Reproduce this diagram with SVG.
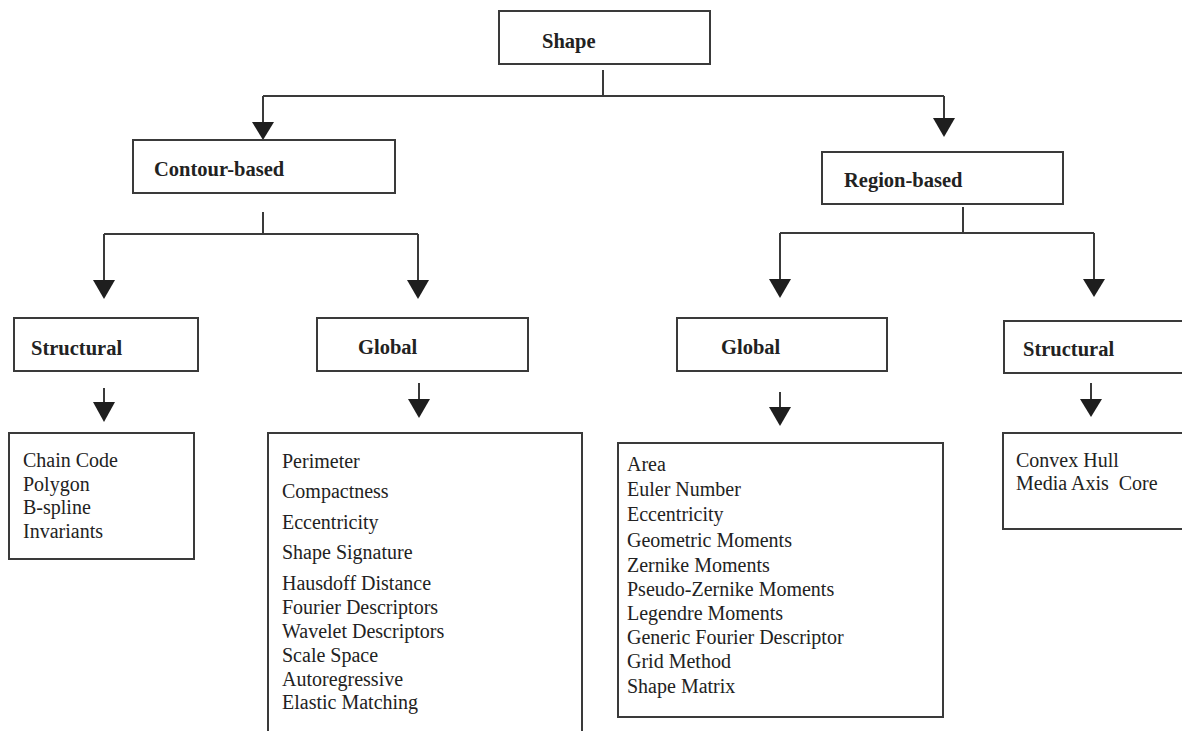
<svg xmlns="http://www.w3.org/2000/svg" width="1182" height="731" viewBox="0 0 1182 731">
  <style>
    .box { fill: #ffffff; stroke: #3a3a3a; stroke-width: 2; }
    .title { font-family: "Liberation Serif", "Times New Roman", serif; font-weight: bold; font-size: 20.5px; fill: #222222; }
    .item { font-family: "Liberation Serif", "Times New Roman", serif; font-size: 20px; fill: #222222; }
    .wire { fill: none; stroke: #3a3a3a; stroke-width: 2; }
    .head { fill: #1e1e1e; stroke: none; }
  </style>
  <rect width="1182" height="731" fill="#ffffff"/>

  <!-- connectors -->
  <g id="connectors">
    <!-- Shape to Contour-based / Region-based -->
    <path class="wire" d="M603 70 V96 M263 96 H944 M263 96 V122 M944 96 V118"/>
    <polygon class="head" points="252,122 274,122 263,140"/>
    <polygon class="head" points="933,118 955,118 944,137"/>
    <!-- Contour-based to its two children -->
    <path class="wire" d="M263 212 V234 M104 234 H418 M104 234 V280 M418 234 V280"/>
    <polygon class="head" points="93,280 115,280 104,299"/>
    <polygon class="head" points="407,280 429,280 418,299"/>
    <!-- Region-based to its two children -->
    <path class="wire" d="M963 207 V233 M780 233 H1094 M780 233 V279 M1094 233 V279"/>
    <polygon class="head" points="769,279 791,279 780,298"/>
    <polygon class="head" points="1083,279 1105,279 1094,297"/>
    <!-- category boxes to their lists -->
    <path class="wire" d="M104 388 V402"/>
    <polygon class="head" points="93,402 115,402 104,422"/>
    <path class="wire" d="M419 383 V399"/>
    <polygon class="head" points="408,399 430,399 419,418"/>
    <path class="wire" d="M780 392 V407"/>
    <polygon class="head" points="769,407 791,407 780,426"/>
    <path class="wire" d="M1091 383 V399"/>
    <polygon class="head" points="1080,399 1102,399 1091,417"/>
  </g>

  <g id="shape">
    <rect class="box" x="499" y="11" width="211" height="53"/>
    <text class="title" x="542" y="48">Shape</text>
  </g>

  <g id="contour-based">
    <rect class="box" x="133" y="140" width="262" height="53"/>
    <text class="title" x="154" y="176">Contour-based</text>
  </g>

  <g id="region-based">
    <rect class="box" x="822" y="152" width="241" height="52"/>
    <text class="title" x="844" y="187">Region-based</text>
  </g>

  <g id="contour-structural">
    <rect class="box" x="14" y="318" width="184" height="53"/>
    <text class="title" x="31" y="355">Structural</text>
  </g>

  <g id="contour-global">
    <rect class="box" x="317" y="318" width="211" height="53"/>
    <text class="title" x="358" y="354">Global</text>
  </g>

  <g id="region-global">
    <rect class="box" x="677" y="318" width="210" height="53"/>
    <text class="title" x="721" y="354">Global</text>
  </g>

  <g id="region-structural">
    <rect class="box" x="1004" y="321" width="190" height="52"/>
    <text class="title" x="1023" y="356">Structural</text>
  </g>

  <g id="contour-structural-list">
    <rect class="box" x="9" y="433" width="185" height="126"/>
    <text class="item" x="23" y="467">Chain Code</text>
    <text class="item" x="23" y="491">Polygon</text>
    <text class="item" x="23" y="514">B-spline</text>
    <text class="item" x="23" y="538">Invariants</text>
  </g>

  <g id="contour-global-list">
    <rect class="box" x="268" y="433" width="314" height="310"/>
    <text class="item" x="282" y="468">Perimeter</text>
    <text class="item" x="282" y="498">Compactness</text>
    <text class="item" x="282" y="529">Eccentricity</text>
    <text class="item" x="282" y="559">Shape Signature</text>
    <text class="item" x="282" y="590">Hausdoff Distance</text>
    <text class="item" x="282" y="614">Fourier Descriptors</text>
    <text class="item" x="282" y="638">Wavelet Descriptors</text>
    <text class="item" x="282" y="662">Scale Space</text>
    <text class="item" x="282" y="686">Autoregressive</text>
    <text class="item" x="282" y="709">Elastic Matching</text>
  </g>

  <g id="region-global-list">
    <rect class="box" x="618" y="443" width="325" height="274"/>
    <text class="item" x="627" y="471">Area</text>
    <text class="item" x="627" y="496">Euler Number</text>
    <text class="item" x="627" y="521">Eccentricity</text>
    <text class="item" x="627" y="547">Geometric Moments</text>
    <text class="item" x="627" y="572">Zernike Moments</text>
    <text class="item" x="627" y="596">Pseudo-Zernike Moments</text>
    <text class="item" x="627" y="620">Legendre Moments</text>
    <text class="item" x="627" y="644">Generic Fourier Descriptor</text>
    <text class="item" x="627" y="668">Grid Method</text>
    <text class="item" x="627" y="693">Shape Matrix</text>
  </g>

  <g id="region-structural-list">
    <rect class="box" x="1003" y="433" width="190" height="96"/>
    <text class="item" x="1016" y="467">Convex Hull</text>
    <text class="item" x="1016" y="490" xml:space="preserve">Media Axis  Core</text>
  </g>
</svg>
